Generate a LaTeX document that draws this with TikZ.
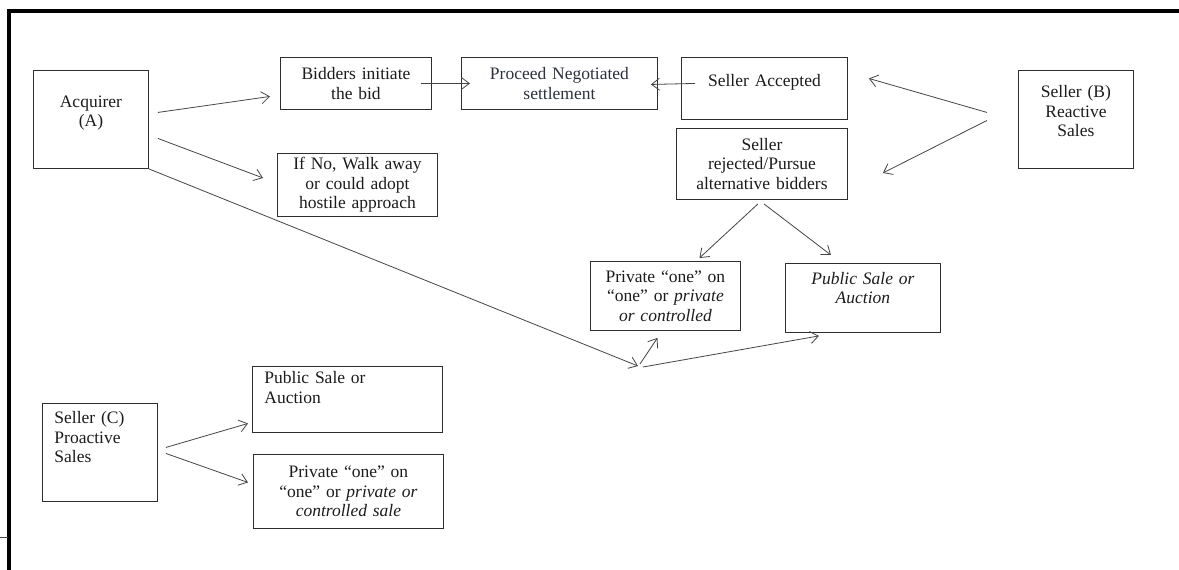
\documentclass[tikz,border=0pt]{standalone}
\usepackage{xcolor}
\usepackage{fontspec}
\setmainfont{Liberation Serif}
\usepackage{tikz}
\usetikzlibrary{arrows.meta, positioning, calc}
\definecolor{boxLine}{HTML}{2E2E2E}
\definecolor{boxTxt}{HTML}{1C1C1C}
\definecolor{arrLine}{HTML}{444444}
\definecolor{slateTxt}{HTML}{2C3140}
\newcommand{\boxfont}{\fontsize{17.5}{19.5}\selectfont}

\begin{document}
\begin{tikzpicture}[
  x=1pt, y=-1pt,
  box/.style={draw=boxLine, text=boxTxt, line width=0.9pt, anchor=north west, inner sep=4pt,
              align=center, font=\boxfont},
  lbox/.style={box, align=left, inner xsep=12pt},
  lowpad/.style={text depth=#1},
  arr/.style={-{Straight Barb[length=8pt, width=12pt]}, draw=arrLine, line width=0.8pt}
]
  \useasboundingbox (0,0) rectangle (1179,570);
  % page frame
  \draw[line width=3.5pt] (9,570) -- (9,11) -- (1179,11);
  \draw[arrLine, line width=0.6pt] (0,537) -- (8,537);

  % acquirer side
  \node[box, minimum width=115, minimum height=98, text width=107, lowpad=36pt] (acq) at (33,70) {Acquirer\\(A)};
  \node[box, minimum width=151, minimum height=52, text width=143] (bid) at (280,57) {Bidders initiate\\the bid};
  \node[box, minimum width=160, minimum height=62, text width=152] (walk) at (277,153) {If No, Walk away\\or could adopt\\hostile approach};
  \node[box, minimum width=196, minimum height=52, text width=188, text=slateTxt] (neg) at (461,57) {Proceed Negotiated\\settlement};

  % reactive seller
  \node[box, minimum width=166, minimum height=62, text width=158, lowpad=16pt] (acc) at (681,57) {Seller Accepted};
  \node[box, minimum width=171, minimum height=71, text width=163] (rej) at (676,128) {Seller\\rejected/Pursue\\alternative bidders};
  \node[box, minimum width=115, minimum height=98, text width=107, lowpad=56pt] (selB) at (1018,70) {Seller (B)\\Reactive\\Sales};
  \node[box, minimum width=150, minimum height=69, text width=142] (pvtB) at (590,261) {Private “one” on\\“one” or \textit{private}\\\textit{or controlled}};
  \node[box, minimum width=155, minimum height=69, text width=147, lowpad=40pt] (pubB) at (785,263) {\textit{Public Sale or}\\\textit{Auction}};

  % proactive seller
  \node[lbox, minimum width=115, minimum height=98, text width=91, lowpad=70pt] (selC) at (42,403) {Seller (C)\\Proactive\\Sales};
  \node[lbox, minimum width=190, minimum height=66, text width=166, lowpad=44pt] (pubC) at (252,366) {Public Sale or\\Auction};
  \node[box, minimum width=190, minimum height=74, text width=182] (pvtC) at (253,454) {Private “one” on\\“one” or \textit{private or}\\\textit{controlled sale}};

  \coordinate (fork) at (638,366);

  \draw[arr] ([shift={(9,-7)}]acq.east) -- ([shift={(-10,13)}]bid.west);
  \draw[arr] ([shift={(9,19)}]acq.east) -- ([shift={(-14,-7)}]walk.west);
  \draw[arr] (acq.south east) -- (fork);
  \draw[arr] ([shift={(2,-2)}]fork) -- ([shift={(-8,7)}]pvtB.south);
  \draw[arr] ([shift={(5,1)}]fork) -- ([shift={(-44,3)}]pubB.south);

  \draw[arr] ([xshift=-11]bid.east) -- ([xshift=9]neg.west);
  \draw[arr] ([shift={(14,-5)}]acc.west) -- ([shift={(-7,1)}]neg.east);

  \draw[arr] ([shift={(-31,-7)}]selB.west) -- ([shift={(21,-10)}]acc.east);
  \draw[arr] ([shift={(-31,1)}]selB.west) -- ([shift={(35,9)}]rej.east);
  \draw[arr] ([shift={(-4,4)}]rej.south) -- ([shift={(34,-3)}]pvtB.north);
  \draw[arr] ([shift={(2,4)}]rej.south) -- ([shift={(-32,-8)}]pubB.north);

  \draw[arr] ([shift={(8,-5)}]selC.east) -- ([shift={(-4,24)}]pubC.west);
  \draw[arr] ([shift={(8,1)}]selC.east) -- ([shift={(-5,-9)}]pvtC.west);
\end{tikzpicture}
\end{document}
